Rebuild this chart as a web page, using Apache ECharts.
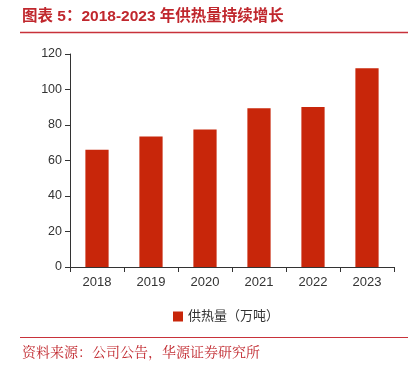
<!DOCTYPE html>
<html><head><meta charset="utf-8">
<script src="https://cdn.jsdelivr.net/npm/echarts@6/dist/echarts.min.js"></script>
<style>html,body{margin:0;padding:0;background:#fff}#c{width:408px;height:371px}</style>
</head><body><div id="c"></div>
<script>
const categories = ['2018','2019','2020','2021','2022','2023'];
const heatSupply = [66, 73.5, 77.5, 89.5, 90.2, 112];
const seriesName = '供热量（万吨）';
const titleText = '图表 5：2018-2023 年供热量持续增长';
const sourceText = '资料来源：公司公告，华源证券研究所';

const chart = echarts.init(document.getElementById('c'));
chart.setOption({
  animation: false,
  textStyle: {fontFamily: 'Arial, "Liberation Sans", "Noto Sans CJK SC"'},
  graphic: [
    {type:'text', left:22, top:9, style:{text:titleText, fill:'#C0272D', font:'bold 15.5px "Liberation Sans", "Noto Sans CJK SC"'}},
    {type:'line', shape:{x1:20,y1:32.5,x2:408,y2:32.5}, style:{stroke:'#C8323A', lineWidth:1.5}},
    {type:'line', shape:{x1:20,y1:337.5,x2:408,y2:337.5}, style:{stroke:'#C8323A', lineWidth:1}},
    {type:'text', left:22, top:345, style:{text:sourceText, fill:'#C0272D', font:'14px "Noto Serif CJK SC", "Noto Sans CJK SC", serif'}}
  ],
  grid: {left:70, right:14, top:54, bottom:104, containLabel:false},
  legend: {
    data:[seriesName], top:305, left:168, itemWidth:10, itemHeight:10,
    icon:'rect', textStyle:{fontSize:13, color:'#333'}, itemGap:5
  },
  xAxis: {
    type:'category', data:categories,
    axisLine:{lineStyle:{color:'#333', width:1}},
    axisTick:{show:true, alignWithLabel:false, length:5, lineStyle:{color:'#333'}},
    axisLabel:{color:'#333', fontSize:13, margin:9}
  },
  yAxis: {
    type:'value', min:0, max:120, interval:20,
    axisLine:{show:true, lineStyle:{color:'#333'}},
    axisTick:{show:true, length:5, lineStyle:{color:'#333'}},
    axisLabel:{color:'#333', fontSize:12.5, margin:8},
    splitLine:{show:false}
  },
  series: [{
    name: seriesName, type:'bar', data: heatSupply, barWidth:'43%',
    itemStyle:{color:'#C8260A'}
  }]
});
</script></body></html>
